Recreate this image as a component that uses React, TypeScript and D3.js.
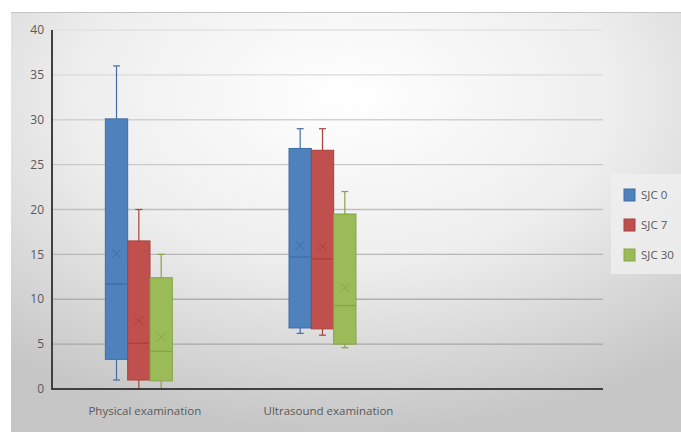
import React from "react";
import * as d3 from "d3";

const categories = ["Physical examination", "Ultrasound examination", ""];
const seriesNames = ["SJC 0", "SJC 7", "SJC 30"];
const seriesFill = ["#4f81bd", "#c0504d", "#9bbb59"];
const seriesStroke = ["#3f6ea6", "#a8413e", "#86a545"];
const yTicks = [0, 5, 10, 15, 20, 25, 30, 35, 40];

// [min, q1, median, q3, max, mean] per category, per series
const sjc0 = [
  [1, 3.3, 11.7, 30.1, 36, 15.1],
  [6.2, 6.8, 14.7, 26.8, 29, 16.0],
];
const sjc7 = [
  [0, 1.0, 5.1, 16.5, 20, 7.6],
  [6.0, 6.7, 14.5, 26.6, 29, 15.9],
];
const sjc30 = [
  [0, 0.9, 4.2, 12.4, 15, 5.8],
  [4.6, 5.0, 9.3, 19.5, 22, 11.3],
];
const allSeries = [sjc0, sjc7, sjc30];

const W = 681;
const H = 432;
const plotLeft = 52;
const plotRight = 603;
const plotTop = 30;
const plotBottom = 389;

export default function App() {
  const x = d3.scaleBand<string>().domain(categories).range([plotLeft, plotRight]).padding(0);
  const y = d3.scaleLinear().domain([0, 40]).range([plotBottom, plotTop]);
  const inner = d3.scaleBand<string>().domain(seriesNames).range([-38.5, 28.5]).padding(0);
  const gridColor = d3.interpolateRgb("#e2e2e2", "#9e9e9e");
  const font = "'Open Sans', 'Liberation Sans', sans-serif";

  return (
    <svg width={W} height={H} style={{ position: "absolute", left: 0, top: 0 }}>
      <defs>
        <radialGradient id="bg" cx="0.5" cy="0.2" r="0.8" fx="0.5" fy="0.2">
          <stop offset="0" stopColor="#ffffff" />
          <stop offset="0.5" stopColor="#eeeeee" />
          <stop offset="1" stopColor="#c6c6c6" />
        </radialGradient>
      </defs>
      <rect x={0} y={0} width={W} height={H} fill="#ffffff" />
      <rect x={11} y={12} width={W - 11} height={H - 12} fill="url(#bg)" />
      <line x1={11} x2={W} y1={12.5} y2={12.5} stroke="#c4c4c4" strokeWidth={1} />

      {/* gridlines */}
      {yTicks.filter((t) => t > 0).map((t) => (
        <line
          key={t}
          x1={plotLeft}
          x2={plotRight}
          y1={y(t)}
          y2={y(t)}
          stroke={gridColor(1 - t / 40)}
          strokeWidth={1.3}
        />
      ))}

      {/* y tick labels */}
      {yTicks.map((t) => (
        <text
          key={t}
          x={44}
          y={y(t)}
          dy="0.35em"
          textAnchor="end"
          fontFamily={font}
          fontSize={12}
          fill="#595959"
        >
          {t}
        </text>
      ))}

      {/* boxes */}
      {allSeries.map((s, si) =>
        s.map((v, ci) => {
          const [mn, q1, med, q3, mx, mean] = v;
          const cx0 = (x(categories[ci]) as number) + x.bandwidth() / 2;
          const bx = cx0 + (inner(seriesNames[si]) as number);
          const bw = inner.bandwidth();
          const mid = bx + bw / 2;
          const stroke = seriesStroke[si];
          const mxPx = y(mean);
          const m = 4.5;
          return (
            <g key={`${si}-${ci}`}>
              <line x1={mid} x2={mid} y1={y(mx)} y2={y(q3)} stroke={stroke} strokeWidth={1.2} />
              <line x1={mid} x2={mid} y1={y(q1)} y2={y(mn)} stroke={stroke} strokeWidth={1.2} />
              <line x1={mid - 3.5} x2={mid + 3.5} y1={y(mx)} y2={y(mx)} stroke={stroke} strokeWidth={1.2} />
              <line x1={mid - 3.5} x2={mid + 3.5} y1={y(mn)} y2={y(mn)} stroke={stroke} strokeWidth={1.2} />
              <rect
                x={bx}
                y={y(q3)}
                width={bw}
                height={y(q1) - y(q3)}
                fill={seriesFill[si]}
                stroke={stroke}
                strokeWidth={1}
              />
              <line x1={bx} x2={bx + bw} y1={y(med)} y2={y(med)} stroke={stroke} strokeWidth={1.3} />
              <path
                d={`M${mid - m},${mxPx - m}L${mid + m},${mxPx + m}M${mid - m},${mxPx + m}L${mid + m},${mxPx - m}`}
                stroke={stroke}
                strokeWidth={1}
                fill="none"
              />
            </g>
          );
        })
      )}

      {/* axes */}
      <line x1={plotLeft} x2={plotLeft} y1={plotTop} y2={plotBottom + 1} stroke="#404040" strokeWidth={2} />
      <line x1={plotLeft - 1} x2={plotRight} y1={plotBottom} y2={plotBottom} stroke="#404040" strokeWidth={2} />

      {/* x labels */}
      {categories.map((c) => (
        <text
          key={c}
          x={(x(c) as number) + x.bandwidth() / 2 + 1}
          y={415}
          textAnchor="middle"
          fontFamily={font}
          fontSize={11.5}
          fill="#595959"
        >
          {c}
        </text>
      ))}

      {/* legend */}
      <rect x={611} y={174} width={70} height={100} fill="#eeeeee" opacity={0.85} />
      {seriesNames.map((n, i) => (
        <g key={n} transform={`translate(624, ${189 + i * 30})`}>
          <rect x={0} y={0} width={11} height={12} fill={seriesFill[i]} stroke={seriesStroke[i]} strokeWidth={1} />
          <text x={17} y={6} dy="0.35em" fontFamily={font} fontSize={11.5} fill="#595959">
            {n}
          </text>
        </g>
      ))}
    </svg>
  );
}
